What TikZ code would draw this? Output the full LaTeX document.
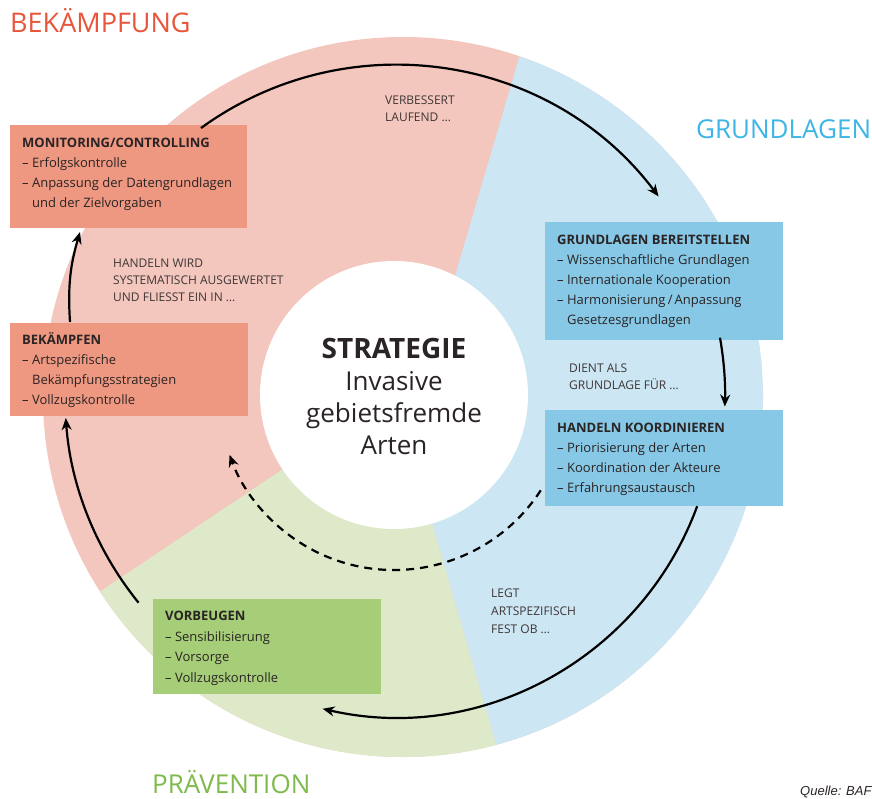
\documentclass[tikz,border=0pt]{standalone}
\usepackage{fontspec}
\setmainfont{Open Sans}
\newfontfamily\quellefont{Liberation Sans}
\usetikzlibrary{arrows.meta,calc}
\definecolor{pinksec}{HTML}{F3C7BD}
\definecolor{bluesec}{HTML}{CDE6F3}
\definecolor{greensec}{HTML}{DDE9C9}
\definecolor{salmonbox}{HTML}{EE9882}
\definecolor{bluebox}{HTML}{86C8E6}
\definecolor{greenbox}{HTML}{A6CE79}
\definecolor{titlered}{HTML}{E8553A}
\definecolor{titleblue}{HTML}{3DB5E6}
\definecolor{titlegreen}{HTML}{7FBA4C}
\definecolor{boxtext}{HTML}{2A2424}
\definecolor{labeltext}{HTML}{3E3636}
\begin{document}
\begin{tikzpicture}[x=1pt,y=-1pt,
  boxbg/.style={rectangle, draw=none, anchor=north west, inner sep=0pt},
  boxtxt/.style={anchor=north west, inner sep=0pt, align=left, text=boxtext,
    font=\fontsize{13}{20}\selectfont},
  lbl/.style={anchor=north west, inner sep=0pt, align=left, text=labeltext,
    font=\fontsize{12}{17}\selectfont},
  bigtitle/.style={anchor=base west, inner sep=0pt, font=\fontsize{27}{32}\selectfont},
  arr/.style={line width=2.2pt, draw=black, -{Stealth[length=12pt,width=10pt]}},
  dasharr/.style={arr, dash pattern=on 8pt off 6pt}
]
\useasboundingbox (0,0) rectangle (872,799);
\fill[white] (0,0) rectangle (872,799);

% sectors of the ring
\begin{scope}
  \clip (403,397) circle[radius=360];
  \fill[pinksec] (403,397) circle[radius=360];
  \fill[bluesec] (536,0) -- (455,276) -- (394,395) -- (434,530) -- (512,800)
     -- (880,800) -- (880,0) -- cycle;
  \fill[greensec] (394,395) -- (-10,665) -- (-10,800) -- (512,800) -- (434,530) -- cycle;
\end{scope}

% centre
\node[circle, fill=white, minimum size=268pt, inner sep=0pt] (strat) at (394,395) {};
\node[align=center, inner sep=0pt, text=boxtext,
  font=\fontsize{26}{32}\selectfont] (stratT) at (394,396)
  {{\fontsize{28}{32}\selectfont\bfseries STRATEGIE}\\Invasive\\gebietsfremde\\Arten};

% section titles
\node[bigtitle, text=titlered] (tBek) at (10,33) {BEKÄMPFUNG};
\node[bigtitle, text=titleblue, font=\fontsize{26}{32}\selectfont] (tGru) at (696,139) {GRUNDLAGEN};
\node[bigtitle, text=titlegreen, font=\fontsize{26}{32}\selectfont] (tPra) at (152,793) {PRÄVENTION};
\node[anchor=base west, inner sep=0pt, font=\quellefont\itshape\fontsize{13}{15}\selectfont,
  text=boxtext] (quelle) at (800,795) {Quelle: BAF};

% boxes
\node[boxbg, fill=salmonbox, minimum width=237pt, minimum height=103pt] (mon) at (10,125) {};
\node[boxtxt] (monT) at (22,138)
  {\textbf{MONITORING/CONTROLLING}\\– Erfolgskontrolle\\– Anpassung der Datengrundlagen\\\phantom{– }und der Zielvorgaben};

\node[boxbg, fill=salmonbox, minimum width=238pt, minimum height=93pt] (bek) at (10,323) {};
\node[boxtxt] (bekT) at (22,332)
  {\textbf{BEKÄMPFEN}\\– Artspezifische\\\phantom{– }Bekämpfungsstrategien\\– Vollzugskontrolle};

\node[boxbg, fill=bluebox, minimum width=238pt, minimum height=118pt] (grb) at (545,222) {};
\node[boxtxt] (grbT) at (557,235)
  {\textbf{GRUNDLAGEN BEREITSTELLEN}\\– Wissenschaftliche Grundlagen\\– Internationale Kooperation\\– Harmonisierung\,/\,Anpassung\\\phantom{– }Gesetzesgrundlagen};

\node[boxbg, fill=bluebox, minimum width=238pt, minimum height=96pt] (hk) at (545,410) {};
\node[boxtxt] (hkT) at (557,423)
  {\textbf{HANDELN KOORDINIEREN}\\– Priorisierung der Arten\\– Koordination der Akteure\\– Erfahrungsaustausch};

\node[boxbg, fill=greenbox, minimum width=228pt, minimum height=95pt] (vor) at (153,599) {};
\node[boxtxt, font=\fontsize{13}{20.5}\selectfont] (vorT) at (165,611)
  {\textbf{VORBEUGEN}\\– Sensibilisierung\\– Vorsorge\\– Vollzugskontrolle};

% labels
\node[lbl] (l1) at (385,96) {VERBESSERT\\LAUFEND …};
\node[lbl] (l2) at (113,259) {HANDELN WIRD\\SYSTEMATISCH AUSGEWERTET\\UND FLIESST EIN IN …};
\node[lbl] (l3) at (569,364) {DIENT ALS\\GRUNDLAGE FÜR …};
\node[lbl, font=\fontsize{12}{18}\selectfont] (l4) at (491,589) {LEGT\\ARTSPEZIFISCH\\FEST OB …};

% arrows
\coordinate (C) at (395,395);
\coordinate (a1s) at ($(C)+(-126:330)$);
\draw[arr] (a1s) arc[start angle=-126, end angle=-37, radius=330];
\coordinate (a2s) at ($(C)+(-10:330)$);
\draw[arr] (a2s) arc[start angle=-10, end angle=2, radius=330];
\coordinate (a3s) at ($(C)+(20.2:322)$);
\draw[arr] (a3s) arc[start angle=20.2, end angle=103, radius=322];
\coordinate (a4s) at ($(C)+(141:330)$);
\draw[arr] (a4s) arc[start angle=141, end angle=176, radius=330];
\coordinate (a5s) at (70,322);
\coordinate (a5e) at (80,232);
\draw[arr] (a5s) to[bend left=10] (a5e);
\coordinate (D) at (394,395);
\coordinate (dss) at ($(D)+(33:175)$);
\draw[dasharr] (dss) arc[start angle=33, end angle=160, radius=175];
\end{tikzpicture}
\end{document}
